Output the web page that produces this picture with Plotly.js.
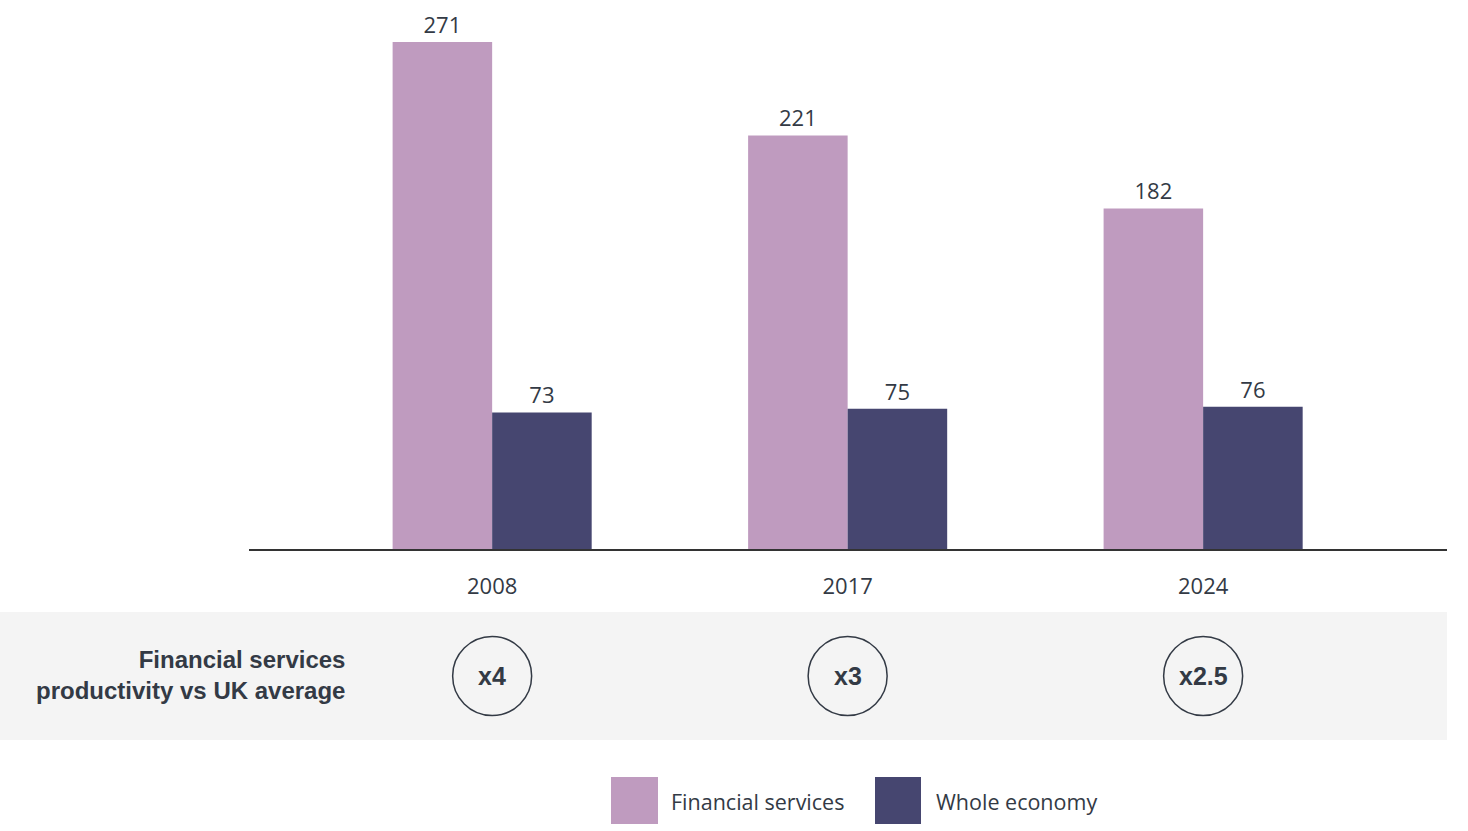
<!DOCTYPE html>
<html>
<head>
<meta charset="utf-8">
<script src="https://cdn.plot.ly/plotly-3.0.1.min.js"></script>
<style>
  html, body { margin: 0; padding: 0; background: #fff; }
  #chart { width: 1468px; height: 831px; }
</style>
</head>
<body>
<div id="chart"></div>
<script>
// data
var years = ['2008', '2017', '2024'];
var financialServices = [271, 221, 182];
var wholeEconomy = [73, 75, 76];
var multiples = ['x4', 'x3', 'x2.5'];
var seriesNames = ['Financial services', 'Whole economy'];
var rowLabel = 'Financial services<br>productivity vs UK average';

var pink = '#bf9bbf';
var navy = '#464670';
var textColor = '#333a45';
var font = 'Open Sans, Noto Sans, sans-serif';
var boldFont = 'Liberation Sans Narrow, Liberation Sans, Arial, sans-serif';

function barTrace(name, values, color) {
    return {
        x: years,
        y: values,
        name: name,
        type: 'bar',
        marker: { color: color },
        text: values.map(String),
        textposition: 'outside',
        textfont: { family: font, size: 22, color: textColor },
        cliponaxis: false,
        hoverinfo: 'skip',
        showlegend: false
    };
}

var data = [
    barTrace(seriesNames[0], financialServices, pink),
    barTrace(seriesNames[1], wholeEconomy, navy)
];

// pixel -> paper helpers for the extra rows under the plot
var plotLeft = 249, plotWidth = 1198, plotHeight = 549;
function px(x) { return (x - plotLeft) / plotWidth; }
function py(y) { return (plotHeight - y) / plotHeight; }

var shapes = [{
    type: 'rect', xref: 'paper', yref: 'paper',
    x0: px(0), x1: 1, y0: py(612), y1: py(740),
    fillcolor: '#f4f4f4', line: { width: 0 }, layer: 'below'
}];

var annotations = [{
    xref: 'paper', yref: 'paper', x: px(347), y: py(675),
    xanchor: 'right', yanchor: 'middle', align: 'right',
    text: '<b>' + rowLabel + '</b>', showarrow: false,
    font: { family: boldFont, size: 24, color: textColor }
}];

// circles with the multiple, one per year (x given as category index)
years.forEach(function(yr, i) {
    shapes.push({
        type: 'circle', xref: 'x', yref: 'paper',
        xsizemode: 'pixel', ysizemode: 'pixel',
        xanchor: i, yanchor: py(676),
        x0: -39.5, x1: 39.5, y0: -39.5, y1: 39.5,
        line: { color: textColor, width: 1.5 }, fillcolor: 'rgba(0,0,0,0)'
    });
    annotations.push({
        xref: 'x', yref: 'paper', x: i, y: py(676),
        xanchor: 'center', yanchor: 'middle',
        text: '<b>' + multiples[i] + '</b>', showarrow: false,
        font: { family: boldFont, size: 25, color: textColor }
    });
});

// hand-made legend with big swatches
var legendItems = [
    { name: seriesNames[0], color: pink, x0: 611, x1: 658, tx: 669 },
    { name: seriesNames[1], color: navy, x0: 875, x1: 921, tx: 934 }
];
legendItems.forEach(function(it) {
    shapes.push({
        type: 'rect', xref: 'paper', yref: 'paper',
        x0: px(it.x0), x1: px(it.x1), y0: py(777), y1: py(824),
        fillcolor: it.color, line: { width: 0 }
    });
    annotations.push({
        xref: 'paper', yref: 'paper', x: px(it.tx), y: py(801),
        xanchor: 'left', yanchor: 'middle',
        text: it.name, showarrow: false,
        font: { family: font, size: 21.5, color: textColor }
    });
});

var layout = {
    width: 1468,
    height: 831,
    margin: { l: 249, r: 21, t: 0, b: 282 },
    paper_bgcolor: '#ffffff',
    plot_bgcolor: '#ffffff',
    barmode: 'group',
    bargap: 0.44,
    bargroupgap: 0,
    font: { family: font, color: textColor },
    xaxis: {
        type: 'category',
        range: [-0.684, 2.686],
        showline: true,
        linecolor: '#333333',
        linewidth: 2,
        showgrid: false,
        zeroline: false,
        ticks: 'outside',
        ticklen: 17,
        tickcolor: 'rgba(0,0,0,0)',
        tickfont: { family: font, size: 22, color: textColor },
        fixedrange: true
    },
    yaxis: {
        range: [0, 293.4],
        visible: false,
        showgrid: false,
        zeroline: false,
        fixedrange: true
    },
    shapes: shapes,
    annotations: annotations,
    showlegend: false
};

Plotly.newPlot('chart', data, layout, { displayModeBar: false, staticPlot: true });
</script>
</body>
</html>
